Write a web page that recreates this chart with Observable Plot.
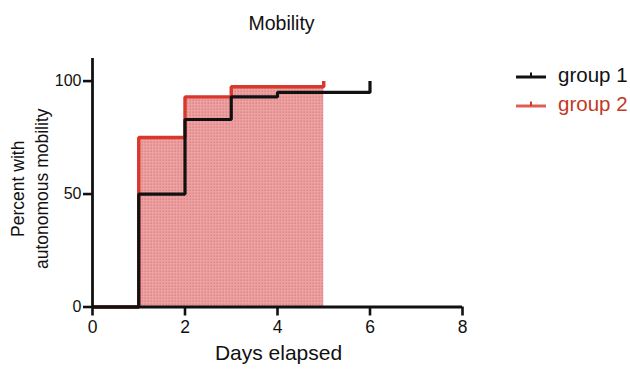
<!DOCTYPE html>
<html>
<head>
<meta charset="utf-8">
<script src="https://cdn.jsdelivr.net/npm/d3@7"></script>
<script src="https://cdn.jsdelivr.net/npm/@observablehq/plot@0.6"></script>
<style>
  html, body { margin: 0; padding: 0; background: #fff; }
  #wrap { position: relative; width: 630px; height: 374px; font-family: "Liberation Sans", Arial, Helvetica, sans-serif; }
  #legend { position: absolute; left: 516px; top: 61px; font-size: 20.5px; }
  .item { display: flex; align-items: center; height: 28.5px; }
  .item svg { margin-right: 12px; }
</style>
</head>
<body>
<div id="wrap"></div>
<script>
// Data (Kaplan–Meier style step curves)
const title = "Mobility";
const xLabel = "Days elapsed";
const yLabelLines = ["Percent with", "autonomous mobility"];
const seriesNames = ["group 1", "group 2"];
const seriesColors = ["#111111", "#d8372b"];
const g1Days = [0, 1, 2, 3, 4, 6, 6];
const g1Pct  = [0, 50, 83, 93, 95, 95, 100];
const g2Days = [0, 1, 2, 3, 5, 5];
const g2Pct  = [0, 75, 93, 97.5, 97.5, 100];
const xTicks = [0, 2, 4, 6, 8];
const yTicks = [0, 50, 100];

const g1 = g1Days.map((d, i) => ({day: d, pct: g1Pct[i]}));
const g2 = g2Days.map((d, i) => ({day: d, pct: g2Pct[i]}));

const font = "Liberation Sans, Arial, Helvetica, sans-serif";

const plot = Plot.plot({
  width: 630,
  height: 374,
  marginLeft: 92,
  marginRight: 168,
  marginTop: 58,
  marginBottom: 67.5,
  style: {fontFamily: font, background: "white", color: "#111"},
  x: {domain: [0, 8]},
  y: {domain: [0, 110]},
  marks: [
    Plot.areaY(g2, {x: "day", y: "pct", curve: "step-after", fill: "#f0a0a0"}),
    Plot.line(g2, {x: "day", y: "pct", curve: "step-after", stroke: seriesColors[1], strokeWidth: 3.4, strokeLinejoin: "miter", strokeLinecap: "butt"}),
    Plot.line(g1, {x: "day", y: "pct", curve: "step-after", stroke: seriesColors[0], strokeWidth: 3.2, strokeLinejoin: "miter", strokeLinecap: "butt"}),
    Plot.ruleY([0], {stroke: "#111", strokeWidth: 2.8}),
    Plot.ruleX([0], {stroke: "#111", strokeWidth: 2.8}),
    Plot.axisX({ticks: xTicks, tickSize: 9, tickPadding: 5, fontSize: 17.5, strokeWidth: 2.6, label: null, tickFormat: d => d}),
    Plot.axisY({ticks: yTicks, tickSize: 9, tickPadding: 2, fontSize: 16, strokeWidth: 2.6, label: null, tickFormat: d => d}),
    Plot.text([title], {frameAnchor: "top", dx: 4, dy: -42, fontSize: 19.5, fill: "#111"}),
    Plot.text([xLabel], {frameAnchor: "bottom", dx: 1, dy: 53, fontSize: 21, fill: "#111"}),
    Plot.text([yLabelLines.join("\n")], {frameAnchor: "left", textAnchor: "middle", lineAnchor: "middle", dx: -64, dy: 6, rotate: -90, fontSize: 17.5, lineHeight: 1.35, fill: "#111"})
  ]
});

// Dotted fill pattern for the shaded area
const ns = "http://www.w3.org/2000/svg";
const defs = document.createElementNS(ns, "defs");
defs.innerHTML = '<pattern id="dots" width="3" height="3" patternUnits="userSpaceOnUse">' +
  '<rect width="3" height="3" fill="#f0a0a0"/>' +
  '<rect x="0.5" y="0.5" width="1.3" height="1.3" fill="#cc8080"/></pattern>';
plot.insertBefore(defs, plot.firstChild);
const areaG = plot.querySelector('g[aria-label="area"]');
if (areaG) {
  areaG.setAttribute("fill", "url(#dots)");
  areaG.querySelectorAll("path").forEach(p => p.setAttribute("fill", "url(#dots)"));
}

const wrap = document.getElementById("wrap");
plot.style.position = "absolute";
plot.style.left = "0";
plot.style.top = "0";
wrap.appendChild(plot);

// Legend
const legend = document.createElement("div");
legend.id = "legend";
seriesNames.forEach((name, i) => {
  const item = document.createElement("div");
  item.className = "item";
  const c = seriesColors[i];
  item.innerHTML = `<svg width="30" height="10"><line x1="0" y1="7" x2="30" y2="7" stroke="${c}" stroke-width="3" ${i ? 'stroke-opacity="0.8"' : ''}/><line x1="15" y1="2.5" x2="15" y2="7" stroke="${c}" stroke-width="2"/></svg><span style="color:${i ? '#c23a1f' : '#111'}">${name}</span>`;
  legend.appendChild(item);
});
wrap.appendChild(legend);
</script>
</body>
</html>
